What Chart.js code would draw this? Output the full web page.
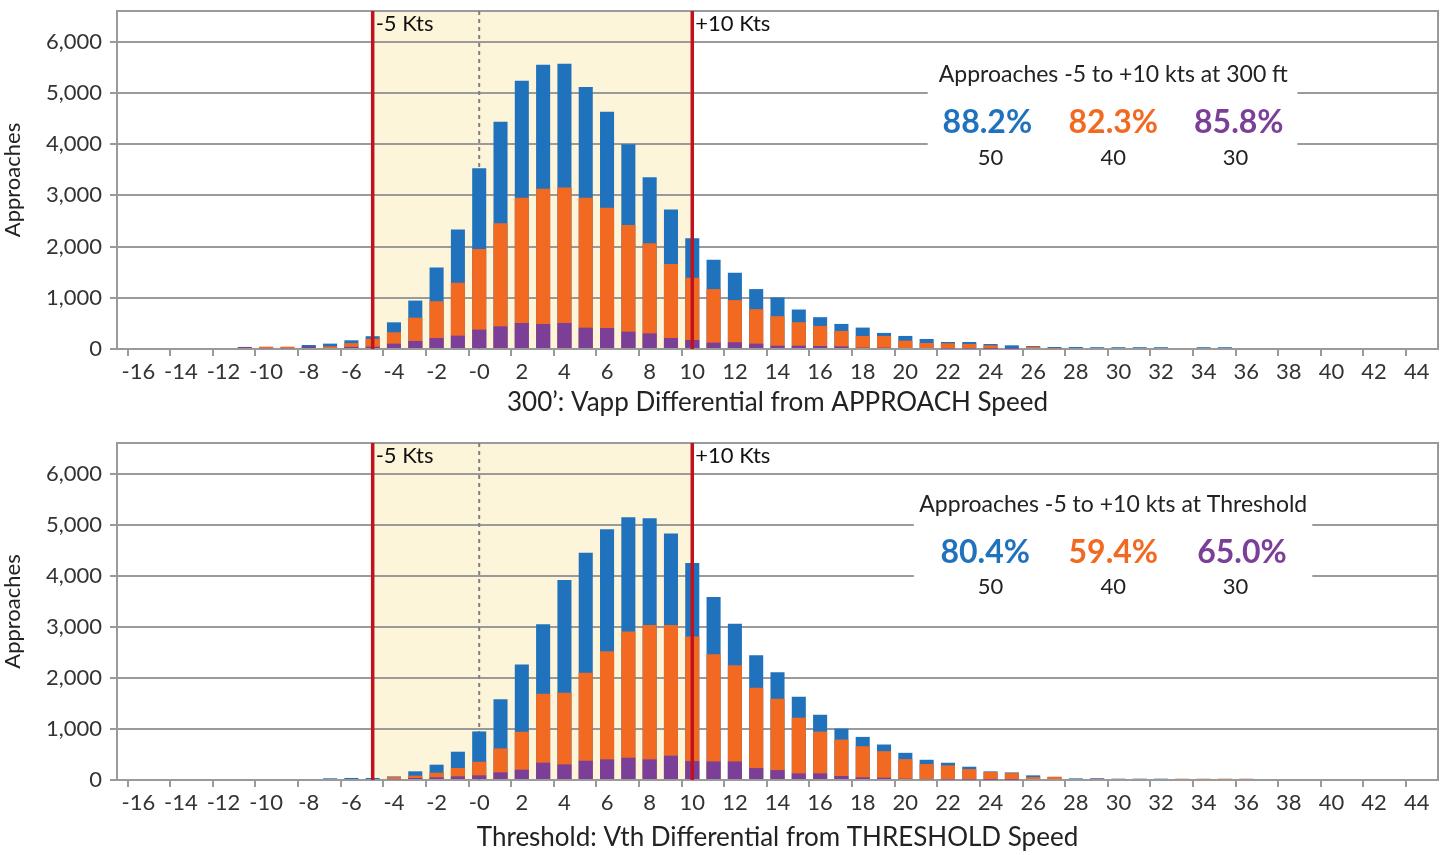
<!DOCTYPE html>
<html>
<head>
<meta charset="utf-8">
<script src="https://cdn.jsdelivr.net/npm/chart.js@4.4.1/dist/chart.umd.min.js"></script>
<style>
html, body { margin: 0; padding: 0; background: #fff; }
#wrap { position: relative; width: 1449px; height: 855px; }
canvas { position: absolute; left: 0; }
</style>
</head>
<body>
<div id="wrap">
	<canvas id="chartTop" width="1449" height="420" style="top:0px"></canvas>
	<canvas id="chartBottom" width="1449" height="423" style="top:432px"></canvas>
</div>
<script>
// knots differential, one bar per knot
const categories = [
	-17, -16, -15, -14, -13, -12, -11, -10, -9, -8, -7, -6, -5, -4, -3, -2, -1,
	0, 1, 2, 3, 4, 5, 6, 7, 8, 9, 10, 11, 12, 13, 14, 15, 16, 17, 18, 19, 20,
	21, 22, 23, 24, 25, 26, 27, 28, 29, 30, 31, 32, 33, 34, 35, 36, 37, 38, 39,
	40, 41, 42, 43, 44, 45
];
const yTicks = [0, 1000, 2000, 3000, 4000, 5000, 6000];
const flapLabels = ['50', '40', '30'];

// 300 ft: Vapp differential from approach speed
const app50 = [
	0, 0, 0, 0, 0, 0, 35, 30, 30, 78, 105, 170, 250, 521, 945, 1590, 2332,
	3531, 4436, 5238, 5550, 5570, 5114, 4632, 4000, 3355, 2723, 2165, 1745, 1490, 1170, 1006, 771, 621, 490, 418, 314, 255,
	196, 137, 137, 98, 72, 59, 39, 39, 35, 35, 35, 35, 0, 35, 35, 0, 0, 0, 0,
	0, 0, 0, 0, 0, 0
];
const app40 = [
	0, 0, 0, 0, 0, 0, 0, 46, 46, 30, 52, 115, 200, 326, 612, 932, 1296,
	1954, 2456, 2951, 3127, 3153, 2951, 2756, 2423, 2065, 1661, 1390, 1170, 954, 778, 641, 523, 451, 353, 255, 255, 163,
	118, 111, 98, 72, 20, 46, 10, 0, 0, 0, 0, 0, 0, 0, 0, 0, 0, 0, 0,
	0, 0, 0, 0, 0, 0
];
const app30 = [
	0, 0, 0, 0, 0, 0, 40, 15, 15, 50, 20, 42, 45, 104, 156, 215, 261,
	378, 443, 508, 489, 508, 417, 410, 339, 306, 215, 176, 124, 131, 105, 65, 65, 59, 52, 26, 26, 20,
	20, 10, 10, 5, 5, 0, 0, 0, 0, 0, 0, 0, 0, 0, 0, 0, 0, 0, 0,
	0, 0, 0, 0, 0, 0
];

// Threshold: Vth differential from threshold speed
const thr50 = [
	0, 0, 0, 0, 0, 0, 0, 0, 0, 0, 33, 40, 40, 70, 170, 300, 554,
	951, 1583, 2261, 3049, 3915, 4450, 4912, 5147, 5127, 4827, 4250, 3584, 3058, 2442, 2110, 1630, 1279, 1006, 844, 695, 532,
	396, 338, 260, 169, 149, 91, 55, 32, 25, 26, 26, 26, 0, 0, 0, 0, 0, 0, 0,
	0, 0, 0, 0, 0, 0
];
const thr40 = [
	0, 0, 0, 0, 0, 0, 0, 0, 0, 0, 0, 0, 0, 60, 85, 143, 235,
	358, 619, 945, 1687, 1707, 2098, 2521, 2906, 3036, 3036, 2810, 2461, 2247, 1805, 1591, 1221, 948, 792, 662, 565, 409,
	312, 286, 214, 156, 136, 58, 65, 20, 20, 0, 0, 0, 26, 26, 26, 26, 0, 0, 0,
	0, 0, 0, 0, 0, 0
];
const thr30 = [
	0, 0, 0, 0, 0, 0, 0, 0, 0, 0, 0, 0, 0, 15, 39, 52, 72,
	91, 150, 202, 339, 306, 378, 404, 436, 404, 476, 370, 364, 364, 234, 195, 130, 130, 78, 52, 45, 26,
	15, 10, 8, 5, 5, 0, 0, 0, 32, 0, 0, 0, 0, 0, 0, 0, 0, 0, 0,
	0, 0, 0, 0, 0, 0
];

const topPercents = ['88.2%', '82.3%', '85.8%'];
const bottomPercents = ['80.4%', '59.4%', '65.0%'];

const BLUE = '#1f72bb', ORANGE = '#f26a21', PURPLE = '#7c3f98';
const FONT = 'Lato';

const catIndex = v => categories.indexOf(v);

const bandPlugin = {
	id: 'band',
	beforeDraw(chart, args, opts) {
		const { ctx, chartArea: a, scales: { x } } = chart;
		const x1 = x.getPixelForValue(catIndex(-5));
		const x2 = x.getPixelForValue(catIndex(10));
		ctx.save();
		ctx.fillStyle = '#fdf5da';
		ctx.fillRect(x1, a.top, x2 - x1, a.bottom - a.top);
		ctx.restore();
	},
	beforeDatasetsDraw(chart, args, opts) {
		const { ctx, chartArea: a, scales: { x, y } } = chart;
		const unit = x.getPixelForValue(1) - x.getPixelForValue(0);
		const px = v => a.left + (v - categories[0]) * unit;
		ctx.save();
		// frame
		ctx.strokeStyle = '#9a9a9a';
		ctx.lineWidth = 2;
		ctx.strokeRect(a.left, a.top, a.right - a.left, a.bottom - a.top);
		// dashed zero line
		const x0 = x.getPixelForValue(catIndex(0));
		ctx.strokeStyle = '#808080';
		ctx.setLineDash([4, 4]);
		ctx.beginPath();
		ctx.moveTo(x0, a.top);
		ctx.lineTo(x0, a.bottom);
		ctx.stroke();
		ctx.setLineDash([]);

		// white box with summary
		const b = opts.box;
		const by1 = y.getPixelForValue(b.y1);
		const by2 = y.getPixelForValue(b.y2);
		ctx.fillStyle = '#fff';
		ctx.fillRect(px(b.x1), by1, px(b.x2) - px(b.x1), by2 - by1);

		ctx.textAlign = 'center';
		ctx.textBaseline = 'middle';
		ctx.fillStyle = '#222';
		ctx.font = '23px ' + FONT;
		ctx.fillText(opts.title, px(b.cx[1]), y.getPixelForValue(b.titleY));
		const colors = [BLUE, ORANGE, PURPLE];
		for (let i = 0; i < 3; i++) {
			ctx.font = 'bold 32px ' + FONT;
			ctx.fillStyle = colors[i];
			ctx.fillText(opts.percents[i], px(b.cx[i]), y.getPixelForValue(b.pctY));
			ctx.font = '22px ' + FONT;
			ctx.fillStyle = '#222';
			ctx.fillText(flapLabels[i], px(b.nx[i]), y.getPixelForValue(b.numY));
		}
		ctx.restore();
	},
	afterDatasetsDraw(chart, args, opts) {
		const { ctx, chartArea: a, scales: { x } } = chart;
		ctx.save();
		ctx.strokeStyle = '#c0121c';
		ctx.lineWidth = 3.5;
		ctx.font = '22px ' + FONT;
		ctx.fillStyle = '#111';
		ctx.textAlign = 'left';
		ctx.textBaseline = 'middle';
		[[-5, '-5 Kts'], [10, '+10 Kts']].forEach(([v, txt]) => {
			const px = x.getPixelForValue(catIndex(v));
			ctx.beginPath();
			ctx.moveTo(px, a.top);
			ctx.lineTo(px, a.bottom);
			ctx.stroke();
			ctx.fillText(txt, px + 3, a.top + 13);
		});
		ctx.restore();
	}
};

function makeChart(id, s50, s40, s30, xTitle, boxTitle, percents, box, xHeight) {
	const showTick = c => c >= -16 && c <= 44 && c % 2 === 0;
	return new Chart(document.getElementById(id), {
		type: 'bar',
		data: {
			labels: categories,
			datasets: [
				{ label: flapLabels[0], data: s50, backgroundColor: BLUE, order: 3 },
				{ label: flapLabels[1], data: s40, backgroundColor: ORANGE, order: 2 },
				{ label: flapLabels[2], data: s30, backgroundColor: PURPLE, order: 1 }
			]
		},
		options: {
			responsive: false,
			animation: false,
			devicePixelRatio: 1,
			layout: { padding: { top: 11, right: 11, left: 0, bottom: 0 } },
			datasets: { bar: { grouped: false, barPercentage: 0.66, categoryPercentage: 1 } },
			plugins: {
				legend: { display: false },
				tooltip: { enabled: false },
				band: { title: boxTitle, percents: percents, box: box }
			},
			scales: {
				x: {
					offset: false,
					afterFit: s => { s.height = xHeight; s.paddingLeft = 0; s.paddingRight = 0; },
					grid: {
						drawOnChartArea: false,
						tickLength: 7,
						lineWidth: 2,
						tickColor: ctx => showTick(categories[ctx.index]) ? '#9a9a9a' : 'rgba(0,0,0,0)'
					},
					border: { color: '#9a9a9a', width: 2 },
					ticks: {
						autoSkip: false,
						maxRotation: 0,
						padding: 3,
						color: '#333',
						font: { family: FONT, size: 22 },
						callback: (v, i) => {
							const c = categories[i];
							if (!showTick(c)) return '';
							return c === 0 ? '-0' : String(c);
						}
					},
					title: {
						display: true,
						text: xTitle,
						color: '#222',
						font: { family: FONT, size: 26 },
						padding: { top: 0, bottom: 2 }
					}
				},
				y: {
					min: 0,
					max: 6600,
					afterFit: s => { s.width = 117; s.paddingTop = 0; s.paddingBottom = 0; },
					afterBuildTicks: s => { s.ticks = yTicks.map(v => ({ value: v })); },
					grid: { color: '#9a9a9a', lineWidth: 2, tickLength: 7 },
					border: { color: '#9a9a9a', width: 2 },
					ticks: {
						padding: 8,
						color: '#333',
						font: { family: FONT, size: 22 },
						callback: v => v.toLocaleString('en-US')
					},
					title: {
						display: true,
						text: 'Approaches',
						color: '#222',
						font: { family: FONT, size: 22 },
						padding: { top: 0, bottom: 4 }
					}
				}
			}
		},
		plugins: [bandPlugin]
	});
}

makeChart('chartTop', app50, app40, app30,
	'300\u2019: Vapp Differential from APPROACH Speed',
	'Approaches -5 to +10 kts at 300 ft', topPercents,
	{ x1: 21.05, x2: 38.4, y1: 5740, y2: 3310, titleY: 5360, pctY: 4420, numY: 3740,
	  cx: [23.85, 29.76, 35.65], nx: [24.0, 29.76, 35.5] },
	71);

makeChart('chartBottom', thr50, thr40, thr30,
	'Threshold: Vth Differential from THRESHOLD Speed',
	'Approaches -5 to +10 kts at Threshold', bottomPercents,
	{ x1: 20.4, x2: 39.1, y1: 5740, y2: 3350, titleY: 5390, pctY: 4456, numY: 3774,
	  cx: [23.75, 29.76, 35.8], nx: [24.0, 29.76, 35.5] },
	75);
</script>
</body>
</html>
